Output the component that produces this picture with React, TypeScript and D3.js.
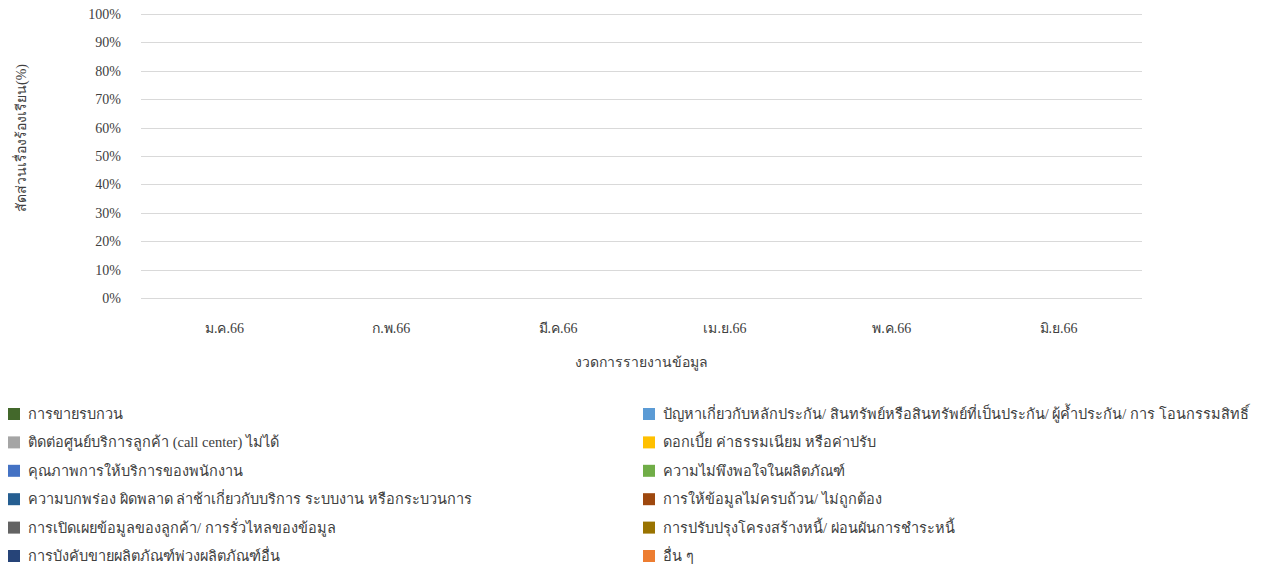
import { useEffect, useRef } from "react";
import * as d3 from "d3";

const months = ["ม.ค.66", "ก.พ.66", "มี.ค.66", "เม.ย.66", "พ.ค.66", "มิ.ย.66"];
const yTicks = [0, 10, 20, 30, 40, 50, 60, 70, 80, 90, 100];

// series names in legend order (left column first, then right column)
const seriesNames = [
    "การขายรบกวน",
    "ติดต่อศูนย์บริการลูกค้า (call center) ไม่ได้",
    "คุณภาพการให้บริการของพนักงาน",
    "ความบกพร่อง ผิดพลาด ล่าช้าเกี่ยวกับบริการ ระบบงาน หรือกระบวนการ",
    "การเปิดเผยข้อมูลของลูกค้า/ การรั่วไหลของข้อมูล",
    "การบังคับขายผลิตภัณฑ์พ่วงผลิตภัณฑ์อื่น",
    "ปัญหาเกี่ยวกับหลักประกัน/ สินทรัพย์หรือสินทรัพย์ที่เป็นประกัน/ ผู้ค้ำประกัน/ การ โอนกรรมสิทธิ์",
    "ดอกเบี้ย ค่าธรรมเนียม หรือค่าปรับ",
    "ความไม่พึงพอใจในผลิตภัณฑ์",
    "การให้ข้อมูลไม่ครบถ้วน/ ไม่ถูกต้อง",
    "การปรับปรุงโครงสร้างหนี้/ ผ่อนผันการชำระหนี้",
    "อื่น ๆ",
];

const seriesColors = [
    "#43682b", "#a5a5a5", "#4472c4", "#255e91", "#636363", "#264478",
    "#5b9bd5", "#ffc000", "#70ad47", "#9e480e", "#997300", "#ed7d31",
];

// the reference chart has no data yet: every period is empty
const v0 = [0, 0, 0, 0, 0, 0];
const v1 = [0, 0, 0, 0, 0, 0];
const v2 = [0, 0, 0, 0, 0, 0];
const v3 = [0, 0, 0, 0, 0, 0];
const v4 = [0, 0, 0, 0, 0, 0];
const v5 = [0, 0, 0, 0, 0, 0];
const v6 = [0, 0, 0, 0, 0, 0];
const v7 = [0, 0, 0, 0, 0, 0];
const v8 = [0, 0, 0, 0, 0, 0];
const v9 = [0, 0, 0, 0, 0, 0];
const v10 = [0, 0, 0, 0, 0, 0];
const v11 = [0, 0, 0, 0, 0, 0];
const seriesValues = [v0, v1, v2, v3, v4, v5, v6, v7, v8, v9, v10, v11];

const FONT = "'Liberation Serif', 'Times New Roman', serif";

const App = () => {
    const ref = useRef<SVGSVGElement>(null);

    useEffect(() => {
        const svg = d3.select(ref.current);
        svg.selectAll("*").remove();

        const margin = { top: 14, left: 141, right: 134, bottom: 271 };
        const W = 1276, H = 569;
        const width = W - margin.left - margin.right;
        const height = H - margin.top - margin.bottom;

        const x = d3.scaleBand().domain(months).range([0, width]).paddingInner(0.5).paddingOuter(0.25);
        const y = d3.scaleLinear().domain([0, 100]).range([height, 0]);

        const table = months.map((m, i) => {
            const row: any = { month: m };
            seriesNames.forEach((s, k) => { row[s] = seriesValues[k][i]; });
            return row;
        });
        const stacked = d3.stack().keys(seriesNames)(table);

        const g = svg.append("g").attr("transform", `translate(${margin.left},${margin.top})`);

        // grid
        g.append("g")
            .selectAll("line")
            .data(yTicks)
            .join("line")
            .attr("x1", 0)
            .attr("x2", width)
            .attr("y1", (d) => Math.round(y(d)) + 0.5)
            .attr("y2", (d) => Math.round(y(d)) + 0.5)
            .attr("stroke", "#d9d9d9")
            .attr("stroke-width", 1);

        // y labels
        g.append("g")
            .selectAll("text")
            .data(yTicks)
            .join("text")
            .attr("x", -20)
            .attr("y", (d) => y(d))
            .attr("dy", "0.35em")
            .attr("text-anchor", "end")
            .style("font-family", FONT)
            .style("font-size", "14px")
            .attr("fill", "#404040")
            .text((d) => `${d}%`);

        // bars (stacked)
        g.append("g")
            .selectAll("g")
            .data(stacked)
            .join("g")
            .attr("fill", (_d, i) => seriesColors[i])
            .selectAll("rect")
            .data((d) => d)
            .join("rect")
            .attr("x", (d: any) => x(d.data.month)!)
            .attr("width", x.bandwidth())
            .attr("y", (d) => y(d[1]))
            .attr("height", (d) => y(d[0]) - y(d[1]));

        // x labels
        g.append("g")
            .selectAll("text")
            .data(months)
            .join("text")
            .attr("x", (d) => x(d)! + x.bandwidth() / 2)
            .attr("y", height + 30)
            .attr("dy", "0.35em")
            .attr("text-anchor", "middle")
            .style("font-family", FONT)
            .style("font-size", "14px")
            .attr("fill", "#404040")
            .text((d) => d);

        // axis titles
        svg.append("text")
            .attr("x", margin.left + width / 2)
            .attr("y", 362)
            .attr("dy", "0.35em")
            .attr("text-anchor", "middle")
            .style("font-family", FONT)
            .style("font-size", "14px")
            .attr("fill", "#404040")
            .text("งวดการรายงานข้อมูล");

        svg.append("text")
            .attr("transform", `translate(21,138) rotate(-90)`)
            .attr("dy", "0.35em")
            .attr("text-anchor", "middle")
            .style("font-family", FONT)
            .style("font-size", "14px")
            .attr("fill", "#404040")
            .text("สัดส่วนเรื่องร้องเรียน(%)");

        // legend: two columns of six
        const legend = svg.append("g")
            .selectAll("g")
            .data(seriesNames)
            .join("g")
            .attr("transform", (_d, i) => {
                const col = Math.floor(i / 6);
                const row = i % 6;
                return `translate(${col === 0 ? 8 : 643},${414 + row * 28.4})`;
            });
        legend.append("rect")
            .attr("x", 0)
            .attr("y", -6)
            .attr("width", 12)
            .attr("height", 12)
            .attr("fill", (_d, i) => seriesColors[i]);
        legend.append("text")
            .attr("x", 20)
            .attr("y", 0)
            .attr("dy", "0.35em")
            .style("font-family", FONT)
            .style("font-size", "14.5px")
            .attr("fill", "#404040")
            .text((d) => d);
    }, []);

    return (
        <svg ref={ref} width={1276} height={569}
            style={{ position: "absolute", left: 0, top: 0, background: "#fff" }} />
    );
};

export default App;
